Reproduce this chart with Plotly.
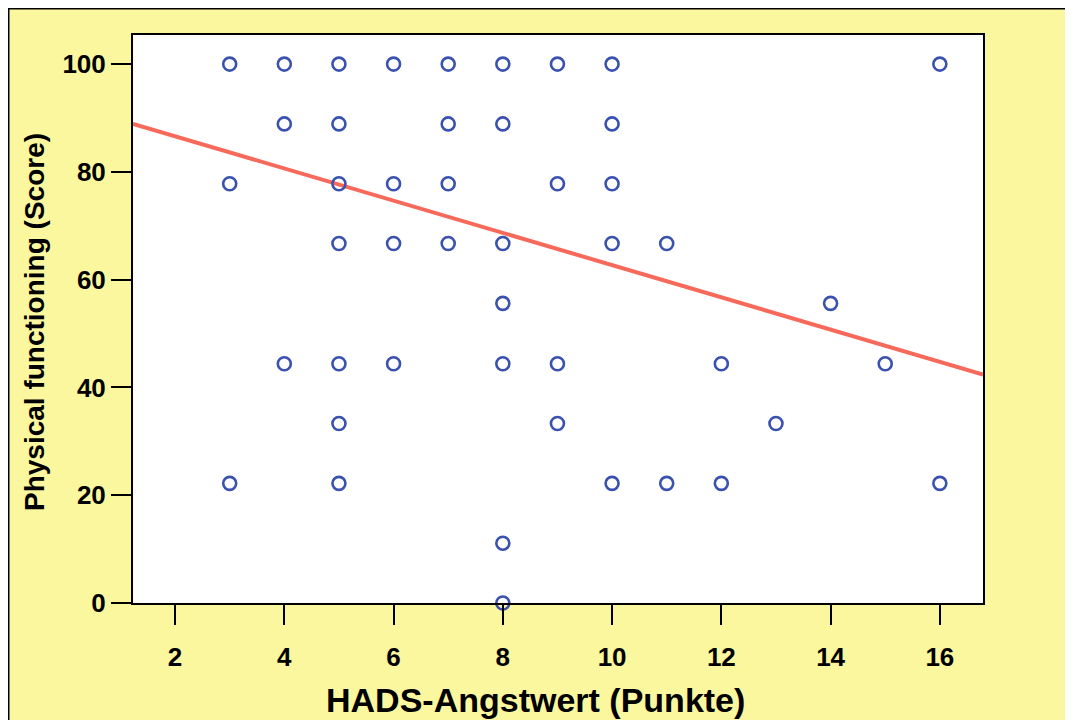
import plotly.graph_objects as go
import numpy as np

# HADS anxiety score (x) and physical functioning score (y)
hads = [3, 4, 5, 6, 7, 8, 9, 10, 16,
        4, 5, 7, 8, 10,
        3, 5, 6, 7, 9, 10,
        5, 6, 7, 8, 10, 11,
        8, 14,
        4, 5, 6, 8, 9, 12, 15,
        5, 9, 13,
        3, 5, 10, 11, 12, 16,
        8,
        8]
physical = [100, 100, 100, 100, 100, 100, 100, 100, 100,
            88.9, 88.9, 88.9, 88.9, 88.9,
            77.8, 77.8, 77.8, 77.8, 77.8, 77.8,
            66.7, 66.7, 66.7, 66.7, 66.7, 66.7,
            55.6, 55.6,
            44.4, 44.4, 44.4, 44.4, 44.4, 44.4, 44.4,
            33.3, 33.3, 33.3,
            22.2, 22.2, 22.2, 22.2, 22.2, 22.2,
            11.1,
            0]

# regression line parameters
fit_intercept = 92.6
fit_slope = -2.99

x_range = [1.23, 16.79]
y_range = [0, 105.4]
x_ticks = [2, 4, 6, 8, 10, 12, 14, 16]
y_ticks = [0, 20, 40, 60, 80, 100]
x_title = "HADS-Angstwert (Punkte)"
y_title = "Physical functioning (Score)"

fx = np.linspace(x_range[0], x_range[1], 50)
fy = fit_intercept + fit_slope * fx

yellow = "#FAF79E"
fig = go.Figure()
fig.add_trace(go.Scatter(x=fx, y=fy, mode="lines",
                         line=dict(color="#F7695A", width=4),
                         hoverinfo="skip", cliponaxis=True))
fig.add_trace(go.Scatter(x=hads, y=physical, mode="markers",
                         marker=dict(symbol="circle-open", size=13,
                                     color="#3A51AE", line=dict(width=2.6)),
                         cliponaxis=False))

W, H = 1065, 712
L, R, T, B = 125, 90, 27, 117
font_family = "Liberation Sans, Arial, sans-serif"
axis_common = dict(showline=True, linewidth=2, linecolor="black", mirror=True,
                   ticks="outside", ticklen=20, tickwidth=2, tickcolor="black",
                   showgrid=False, zeroline=False,
                   tickfont=dict(family=font_family, size=26, color="black", weight="bold"))
fig.update_layout(
    width=W, height=H,
    margin=dict(l=L, r=R, t=T, b=B),
    paper_bgcolor=yellow, plot_bgcolor="white",
    showlegend=False,
    xaxis=dict(range=x_range, tickvals=x_ticks, ticklabelstandoff=10, **axis_common),
    yaxis=dict(range=y_range, tickvals=y_ticks, ticklabelstandoff=0, **axis_common),
)

pw = W - L - R
ph = H - T - B

def px_x(p):
    return (p - L) / pw

def px_y(p):
    return (H - B - p) / ph

# axis titles as annotations (positioned as in the reference)
fig.add_annotation(text=x_title, xref="paper", yref="paper",
                   x=px_x(527), y=px_y(692), xanchor="center", yanchor="middle",
                   showarrow=False,
                   font=dict(family=font_family, size=34, color="black", weight="bold"))
fig.add_annotation(text=y_title, xref="paper", yref="paper", textangle=-90,
                   x=px_x(27), y=px_y(314), xanchor="center", yanchor="middle",
                   showarrow=False,
                   font=dict(family=font_family, size=28, color="black", weight="bold"))

# outer frame border along top and left edges
fig.add_shape(type="line", xref="paper", yref="paper", x0=px_x(0), x1=px_x(W),
              y0=px_y(0.5), y1=px_y(0.5), line=dict(color="black", width=2), layer="above")
fig.add_shape(type="line", xref="paper", yref="paper", x0=px_x(0.5), x1=px_x(0.5),
              y0=px_y(H), y1=px_y(0), line=dict(color="black", width=2), layer="above")

fig.write_html("out.html",
               post_script="document.documentElement.style.overflow='hidden';"
                           "document.body.style.overflow='hidden';")
